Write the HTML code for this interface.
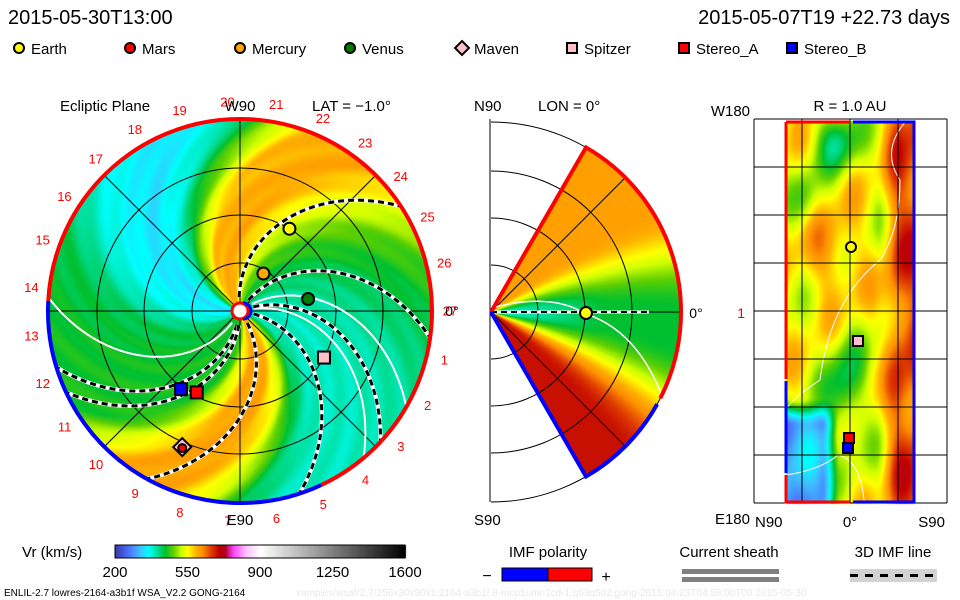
<!DOCTYPE html>
<html><head><meta charset="utf-8">
<style>
html,body{margin:0;padding:0;background:#fff;}
#wrap{position:relative;width:960px;height:600px;overflow:hidden;font-family:"Liberation Sans",sans-serif;}
#fieldCanvas,#overlaySvg,#textSvg{position:absolute;left:0;top:0;}
text{font-family:"Liberation Sans",sans-serif;}
</style></head>
<body>
<div id="wrap">
<canvas id="fieldCanvas" width="960" height="600"></canvas>
<svg id="overlaySvg" width="960" height="600" xmlns="http://www.w3.org/2000/svg"></svg>
<svg id="textSvg" width="960" height="600" xmlns="http://www.w3.org/2000/svg">
<text x="8" y="24" font-size="20">2015-05-30T13:00</text>
<text x="950" y="24" font-size="20" text-anchor="end">2015-05-07T19 +22.73 days</text>
<text x="31" y="54" font-size="15">Earth</text>
<text x="142" y="54" font-size="15">Mars</text>
<text x="252" y="54" font-size="15">Mercury</text>
<text x="362" y="54" font-size="15">Venus</text>
<text x="474" y="54" font-size="15">Maven</text>
<text x="584" y="54" font-size="15">Spitzer</text>
<text x="696" y="54" font-size="15">Stereo_A</text>
<text x="804" y="54" font-size="15">Stereo_B</text>
<text x="60" y="111" font-size="15">Ecliptic Plane</text>
<text x="240" y="111" font-size="15" text-anchor="middle">W90</text>
<text x="312" y="111" font-size="15">LAT = −1.0°</text>
<text x="240" y="525" font-size="15" text-anchor="middle">E90</text>
<text x="452" y="316" font-size="14" text-anchor="middle">0°</text>
<text x="474" y="111" font-size="15">N90</text>
<text x="538" y="111" font-size="15">LON = 0°</text>
<text x="474" y="525" font-size="15">S90</text>
<text x="696" y="318" font-size="14" text-anchor="middle">0°</text>
<text x="850" y="111" font-size="15" text-anchor="middle">R = 1.0 AU</text>
<text x="750" y="116" font-size="15" text-anchor="end">W180</text>
<text x="750" y="524" font-size="15" text-anchor="end">E180</text>
<text x="745" y="318" font-size="14" fill="#ff0000" text-anchor="end">1</text>
<text x="755" y="527" font-size="15">N90</text>
<text x="850" y="527" font-size="15" text-anchor="middle">0°</text>
<text x="945" y="527" font-size="15" text-anchor="end">S90</text>
<text x="22" y="557" font-size="15">Vr (km/s)</text>
<text x="548" y="557" font-size="15" text-anchor="middle">IMF polarity</text>
<text x="487" y="581" font-size="16" text-anchor="middle">−</text>
<text x="606" y="582" font-size="16" text-anchor="middle">+</text>
<text x="729" y="557" font-size="15" text-anchor="middle">Current sheath</text>
<text x="893" y="557" font-size="15" text-anchor="middle">3D IMF line</text>
<text x="4" y="596" font-size="10">ENLIL-2.7 lowres-2164-a3b1f WSA_V2.2 GONG-2164</text>
<text x="296" y="596" font-size="10" fill="#e8e8e8">xamples/wsafr2.7/256x30x90x1.2164-a3b1f.8-mcp1umn1cd-1.g53q5d2.gong-2015:04:23T04:58:00T00   2015-05-30</text>
</svg>
</div>
<script>
var cbTicks = [200, 550, 900, 1250, 1600];
var cbValues = [200, 260, 320, 360, 400, 440, 480, 520, 550, 590, 620, 660, 700, 730, 770, 830, 900, 1600];
var cbColors = ["#3a3aa8","#4a6cff","#40c0ff","#00ffff","#00e0a0","#00c030","#60d000","#d0ff00","#ffff00","#ffb000","#ff9000","#e04000","#c00000","#b00020","#ff40ff","#ffc0ff","#ffffff","#000000"];
var eclPsi = [0, 15, 30, 50, 70, 85, 95, 110, 135, 155, 180, 210, 222, 232, 247, 258, 270, 280, 300, 330, 350, 360];
var eclVr  = [440, 470, 530, 600, 585, 460, 380, 340, 370, 430, 445, 450, 540, 600, 600, 540, 430, 390, 385, 400, 425, 440];
var dashEnds = [33, -8, -43, -72, 241, 197, 205];
var whiteEnds = [176, -50, -30];
var hourLabels = [1,2,3,4,5,6,7,8,9,10,11,12,13,14,15,16,17,18,19,20,21,22,23,24,25,26,27];
var planetNames = ["Earth","Mars","Mercury","Venus","Maven","Spitzer","Stereo_A","Stereo_B"];
var planetR = [0.50, 0.77, 0.23, 0.36, 0.77, 0.50, 0.48, 0.51];
var planetAng = [59, 247, 58, 10, 247, -29, 242, 233];

(function(){
var EC = {x:240, y:311, R:192};
var MC = {x:491, y:312, R:190};
var RP = {x0:786, x1:914, y0:121, y1:503};
var DEG = Math.PI/180;
var KW = 65;
function hexRGB(c){return [parseInt(c.slice(1,3),16),parseInt(c.slice(3,5),16),parseInt(c.slice(5,7),16)];}
var rgbStops = [];
for (var i=0;i<cbColors.length;i++) rgbStops.push(hexRGB(cbColors[i]));
function cmap(v){
  if(v<=cbValues[0]) return rgbStops[0];
  for(var i=1;i<cbValues.length;i++){
    if(v<=cbValues[i]){var t=(v-cbValues[i-1])/(cbValues[i]-cbValues[i-1]);var a=rgbStops[i-1],b=rgbStops[i];
      return [a[0]+(b[0]-a[0])*t,a[1]+(b[1]-a[1])*t,a[2]+(b[2]-a[2])*t];}
  }
  return rgbStops[rgbStops.length-1];
}
function eclProfile(p){
  p=((p%360)+360)%360;
  for(var i=1;i<eclPsi.length;i++){ if(p<=eclPsi[i]){var t=(p-eclPsi[i-1])/(eclPsi[i]-eclPsi[i-1]);return eclVr[i-1]+(eclVr[i]-eclVr[i-1])*t;} }
  return eclVr[0];
}
function smooth(x){x=Math.max(0,Math.min(1,x));return x*x*(3-2*x);}

try{
var canvasEl=document.getElementById('fieldCanvas');var cx2=canvasEl.getContext('2d');
var imgData=cx2.createImageData(960,600);var px=imgData.data;
for(var y=0;y<600;y++)for(var x=0;x<960;x++){
  var v=null;
  var dx=x-EC.x, dy=EC.y-y, r=Math.sqrt(dx*dx+dy*dy);
  if(r<=EC.R){
    var th=Math.atan2(dy,dx)/DEG;
    var psi=th-KW*(1-r/EC.R);
    v=eclProfile(psi)+8*Math.sin((psi*4+r*0.6)*DEG*6);
  }
  dx=x-MC.x; dy=MC.y-y; r=Math.sqrt(dx*dx+dy*dy);
  if(v===null && x>=MC.x && r<=MC.R){
    var ph=Math.atan2(dy,dx)/DEG;
    if(Math.abs(ph)<=60){
      var rn=r/MC.R; var tt=ph+8*rn-4;
      if(tt>=0) v=440+165*smooth((tt-4)/32); else v=440+250*smooth((-tt-6)/36);
      v-=75*Math.max(0,1-rn/0.6)*Math.exp(-(ph/14)*(ph/14));
    }
  }
  if(v===null && x>=RP.x0 && x<=RP.x1 && y>=RP.y0 && y<=RP.y1){
    var u=(x-RP.x0)/(RP.x1-RP.x0), w=(y-RP.y0)/(RP.y1-RP.y0);
    v=545+110*smooth((u-0.7)/0.2);
    v+=60*Math.exp(-(Math.pow((u-0.35)/0.25,2)+Math.pow((w-0.35)/0.12,2)));
    v-=110*Math.exp(-(Math.pow((u-0.45)/0.15,2)+Math.pow((w-0.7)/0.13,2)));
    v-=120*Math.exp(-(Math.pow((u-0.4)/0.15,2)+Math.pow((w-0.05)/0.08,2)));
    v-=60*Math.exp(-(Math.pow((u-0.15)/0.1,2)+Math.pow((w-0.2)/0.08,2)));
    v-=240*smooth((0.42-u)/0.15)*smooth((w-0.72)/0.08);
    v+=35*Math.sin(w*22+u*7)+25*Math.sin(u*18-w*9);
  }
  if(v!==null){var c=cmap(v);var k=(y*960+x)*4;px[k]=c[0];px[k+1]=c[1];px[k+2]=c[2];px[k+3]=255;}
}
cx2.putImageData(imgData,0,0);
for(var xx=115;xx<=405;xx++){var cc=cmap(200+(xx-115)/290*1400);cx2.fillStyle='rgb('+Math.round(cc[0])+','+Math.round(cc[1])+','+Math.round(cc[2])+')';cx2.fillRect(xx,545,1,13);}
}catch(e){}

var SVGNS="http://www.w3.org/2000/svg";var svgRoot=document.getElementById('overlaySvg');
function mk(tag,attrs,parent){var e=document.createElementNS(SVGNS,tag);for(var key in attrs)e.setAttribute(key,attrs[key]);(parent||svgRoot).appendChild(e);return e;}
function label(s,x,y,size,fill,anchor,name){var t=mk('text',{x:x,y:y,'font-size':size,fill:fill,'text-anchor':anchor});t.textContent=s;


return t;}
function ecl(r,a){return [EC.x+r*Math.cos(a*DEG), EC.y-r*Math.sin(a*DEG)];}
function marker(shape,x,y,fill,sz,name){
  var m;
  if(shape==='c') m=mk('circle',{cx:x,cy:y,r:sz,fill:fill,stroke:'#000','stroke-width':2});
  else if(shape==='s') m=mk('rect',{x:x-sz,y:y-sz,width:2*sz,height:2*sz,fill:fill,stroke:'#000','stroke-width':2});
  else m=mk('polygon',{points:x+','+(y-sz-2)+' '+(x+sz+2)+','+y+' '+x+','+(y+sz+2)+' '+(x-sz-2)+','+y,fill:fill,stroke:'#000','stroke-width':2});
  
  
  return m;
}
var legX=[19,130,240,350,462,572,684,792];
var legFill=["#ffff00","#ff0000","#ffa500","#007a00","#ffc0cb","#ffc0cb","#ff0000","#0000ff"];
var legShape=["c","c","c","c","d","s","s","s"];

try{
for(var i=0;i<planetNames.length;i++) marker(legShape[i],legX[i],48,legFill[i],5,'legend-marker-'+planetNames[i].toLowerCase());
}catch(e){}

try{
var defs=mk('defs',{});
var cp=mk('clipPath',{id:'ecClip'},defs);mk('circle',{cx:EC.x,cy:EC.y,r:EC.R},cp);
var gg=mk('g',{'clip-path':'url(#ecClip)'});


[48,96,143].forEach(function(r){mk('circle',{cx:EC.x,cy:EC.y,r:r,fill:'none',stroke:'#000','stroke-width':1},gg);});
mk('line',{x1:EC.x-EC.R,y1:EC.y,x2:EC.x+EC.R,y2:EC.y,stroke:'#000'},gg);
mk('line',{x1:EC.x,y1:EC.y-EC.R,x2:EC.x,y2:EC.y+EC.R,stroke:'#000'},gg);
[45,135].forEach(function(a){var p=ecl(EC.R,a),q=ecl(EC.R,a+180);mk('line',{x1:p[0],y1:p[1],x2:q[0],y2:q[1],stroke:'#000'},gg);});
function spiralPath(endA){var s='';for(var r=14;r<=EC.R+2;r+=3){var a=endA+KW*(EC.R-r)/EC.R;var p=ecl(r,a);s+=(s?'L':'M')+p[0].toFixed(1)+','+p[1].toFixed(1);}return s;}
whiteEnds.forEach(function(a){var p=mk('path',{d:spiralPath(a),fill:'none',stroke:'#fff','stroke-width':2},gg);

});
dashEnds.forEach(function(a){
  var dp=spiralPath(a);
  mk('path',{d:dp,fill:'none',stroke:'#fff','stroke-width':4},gg);
  var p=mk('path',{d:dp,fill:'none',stroke:'#000','stroke-width':3,'stroke-dasharray':'6 4'},gg);
  
  
});
function arc(r,a0,a1){var p=ecl(r,a0),q=ecl(r,a1);var large=Math.abs(a1-a0)>180?1:0;return 'M'+p[0]+','+p[1]+' A'+r+','+r+' 0 '+large+' 0 '+q[0]+','+q[1];}
var ringR=mk('path',{d:arc(EC.R,-65,177),fill:'none',stroke:'#ff0000','stroke-width':4});

var ringB=mk('path',{d:arc(EC.R,177,295),fill:'none',stroke:'#0000ff','stroke-width':4});

mk('circle',{cx:EC.x,cy:EC.y,r:8,fill:'#fff',stroke:'#ff0000','stroke-width':3});
mk('path',{d:'M'+(EC.x+3)+','+(EC.y-8)+' A8,8 0 0 1 '+(EC.x+3)+','+(EC.y+8),fill:'none',stroke:'#0000ff','stroke-width':3});
hourLabels.forEach(function(n){var p=ecl(210,-13.33*n);label(String(n),p[0],p[1]+5,13,'#ff0000','middle','hour-label-'+n);});
for(var j=0;j<planetNames.length;j++){
  var n=planetNames[j];var p=ecl(planetR[j]*EC.R,planetAng[j]);
  if(n==='Mars') continue;
  marker(legShape[j],p[0],p[1],legFill[j],n==='Maven'?7:6,'planet-'+n.toLowerCase());
}
var pm=ecl(planetR[1]*EC.R,planetAng[1]);
marker('c',pm[0],pm[1]+1,'#ff0000',4,'planet-mars');
}catch(e){}

try{
var mg=mk('g',{});

mk('line',{x1:490,y1:119,x2:490,y2:502,stroke:'#000'},mg);
[47,94,141,190].forEach(function(r){mk('path',{d:'M'+MC.x+','+(MC.y-r)+' A'+r+','+r+' 0 0 1 '+MC.x+','+(MC.y+r),fill:'none',stroke:'#000'},mg);});
mk('line',{x1:MC.x,y1:MC.y,x2:MC.x+MC.R,y2:MC.y,stroke:'#000'},mg);
[45,-45].forEach(function(a){mk('line',{x1:MC.x,y1:MC.y,x2:MC.x+MC.R*Math.cos(a*DEG),y2:MC.y-MC.R*Math.sin(a*DEG),stroke:'#000'},mg);});
mk('path',{d:'M'+MC.x+','+(MC.y-4)+' Q'+(MC.x+60)+','+(MC.y-20)+' '+(MC.x+95)+','+(MC.y+2)+' Q'+(MC.x+150)+','+(MC.y+20)+' '+(MC.x+175)+','+(MC.y+95),fill:'none',stroke:'#fff','stroke-width':1.5},mg);
mk('line',{x1:MC.x,y1:MC.y,x2:MC.x+158,y2:MC.y,stroke:'#fff','stroke-width':3},mg);
mk('line',{x1:MC.x,y1:MC.y,x2:MC.x+158,y2:MC.y,stroke:'#000','stroke-width':2,'stroke-dasharray':'6 4'},mg);
function mp(r,a){return [MC.x+r*Math.cos(a*DEG),MC.y-r*Math.sin(a*DEG)];}
var p1=mp(MC.R,60),q1=mp(MC.R,-27);
mk('path',{d:'M'+MC.x+','+MC.y+' L'+p1[0]+','+p1[1]+' A'+MC.R+','+MC.R+' 0 0 1 '+q1[0]+','+q1[1],fill:'none',stroke:'#ff0000','stroke-width':4},mg);
var p2=mp(MC.R,-29),q2=mp(MC.R,-60);
mk('path',{d:'M'+p2[0]+','+p2[1]+' A'+MC.R+','+MC.R+' 0 0 1 '+q2[0]+','+q2[1]+' L'+MC.x+','+MC.y,fill:'none',stroke:'#0000ff','stroke-width':4},mg);
marker('c',MC.x+95,MC.y+1,'#ffff00',6,'meridional-earth');
}catch(e){}

try{
var rg=mk('g',{});

mk('path',{d:'M907,120 Q880,150 900,180 Q900,230 880,260 Q830,300 820,380 Q790,400 786,410',fill:'none',stroke:'#fff','stroke-width':1},rg);
mk('path',{d:'M786,475 Q820,470 838,455 Q860,460 864,500',fill:'none',stroke:'#fff','stroke-width':1},rg);
for(var i2=0;i2<=8;i2++){var yy=119+i2*48;mk('line',{x1:754,y1:yy,x2:947,y2:yy,stroke:'#000'},rg);}
[754,802,850,898,947].forEach(function(x){mk('line',{x1:x,y1:119,x2:x,y2:503,stroke:'#000'},rg);});
mk('path',{d:'M786,122 L850,122',stroke:'#ff0000','stroke-width':3,fill:'none'},rg);
mk('path',{d:'M853,122 L914,122 L914,502 L853,502',fill:'none',stroke:'#0000ff','stroke-width':3},rg);
mk('path',{d:'M850,502 L786,502 L786,475',fill:'none',stroke:'#ff0000','stroke-width':3},rg);
mk('path',{d:'M786,473 L786,381',fill:'none',stroke:'#0000ff','stroke-width':3},rg);
mk('path',{d:'M786,379 L786,122',fill:'none',stroke:'#ff0000','stroke-width':3},rg);
marker('c',851,247,'#ffff00',5,'shell-earth');
marker('s',858,341,'#ffc0cb',5,'shell-spitzer');
marker('s',849,438,'#ff0000',5,'shell-stereo-a');
marker('s',848,448,'#0000ff',5,'shell-stereo-b');
}catch(e){}

try{
var cbf=mk('rect',{x:115,y:545,width:290,height:13,fill:'none',stroke:'#000'});

cbTicks.forEach(function(v){label(String(v),115+(v-200)/1400*290,577,15,'#000','middle','colorbar-tick-'+v);});
var b1=mk('rect',{x:502,y:568,width:46,height:13,fill:'#0000ff',stroke:'#000'});

var b2=mk('rect',{x:548,y:568,width:44,height:13,fill:'#ff0000',stroke:'#000'});

mk('rect',{x:682,y:569,width:97,height:5,fill:'#808080'});
mk('rect',{x:682,y:577,width:97,height:5,fill:'#808080'});
mk('rect',{x:850,y:569,width:87,height:13,fill:'#d3d3d3'});
mk('line',{x1:850,y1:575.5,x2:937,y2:575.5,stroke:'#000','stroke-width':3,'stroke-dasharray':'8 7'});
}catch(e){}
})();
</script>
</body></html>
